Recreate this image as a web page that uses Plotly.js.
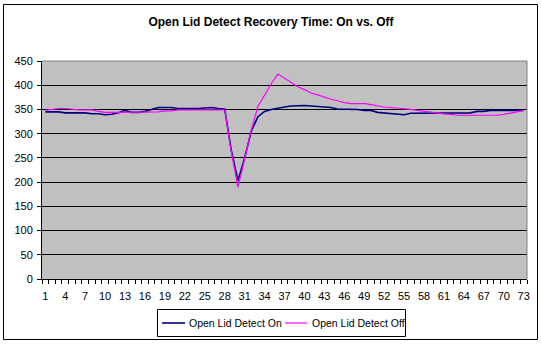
<!DOCTYPE html>
<html>
<head>
<meta charset="utf-8">
<script src="https://cdn.plot.ly/plotly-3.0.1.min.js"></script>
<style>html,body{margin:0;padding:0;background:#fff;}#chart{width:542px;height:345px;}</style>
</head>
<body>
<div id="chart"></div>
<script>
var categories = [1,2,3,4,5,6,7,8,9,10,11,12,13,14,15,16,17,18,19,20,21,22,23,24,25,26,27,28,29,30,31,32,33,34,35,36,37,38,39,40,41,42,43,44,45,46,47,48,49,50,51,52,53,54,55,56,57,58,59,60,61,62,63,64,65,66,67,68,69,70,71,72,73];
var detectOn = [345,345,345,343,343,343,343,341,341,339,340,343,348,344,344,346,350,354,354,354,352,352,351,352,353,354,352,351,265,203,250,305,335,346,350,353,355,357,358,358,357,356,355,354,351,351,350,350,348,348,344,343,341,341,339,342,342,342,342,343,343,343,343,343,343,346,346,348,348,348,348,348,348];
var detectOff = [348,350,352,352,350,349,349,349,346,344,344,344,345,345,345,345,345,345,347,347,349,349,349,349,349,349,349,349,262,189,248,308,356,380,403,423,414,406,397,391,384,380,375,371,368,364,362,362,362,360,357,355,354,353,351,350,348,346,345,342,341,340,338,338,338,338,338,338,338,340,342,345,348];
var tickVals = [1,4,7,10,13,16,19,22,25,28,31,34,37,40,43,46,49,52,55,58,61,64,67,70,73];
var tickText = ['1','4','7','10','13','16','19','22','25','28','31','34','37','40','43','46','49','52','55','58','61','64','67','70','73'];
var seriesNames = ['Open Lid Detect On','Open Lid Detect Off'];
var seriesColors = ['#000080','#FF00FF'];

var W = 542, H = 345, L = 42, R = 15, T = 61, B = 66;
var pw = W - L - R, ph = H - T - B;
function px(x){ return (x - L) / pw; }
function py(y){ return (H - B - y) / ph; }

var traces = [
  {x: categories, y: detectOn, type: 'scatter', mode: 'lines', name: seriesNames[0],
   line: {color: seriesColors[0], width: 1.6}},
  {x: categories, y: detectOff, type: 'scatter', mode: 'lines', name: seriesNames[1],
   line: {color: seriesColors[1], width: 1.2}}
];

var font = 'Liberation Sans, Arial, sans-serif';

// manual legend (box, sample lines, labels)
var legY = py(323);
var shapes = [
  {type: 'line', xref: 'paper', yref: 'paper', x0: 0, x1: 1, y0: 1, y1: 1, line: {color: '#808080', width: 1}},
  {type: 'line', xref: 'paper', yref: 'paper', x0: 1, x1: 1, y0: 0, y1: 1, line: {color: '#808080', width: 1}},
  {type: 'rect', xref: 'paper', yref: 'paper', x0: px(3.5), x1: px(537.5), y0: py(339.5), y1: py(4.5),
   line: {color: '#000', width: 1}, fillcolor: 'rgba(0,0,0,0)'},
  {type: 'rect', xref: 'paper', yref: 'paper', x0: px(157.5), x1: px(405.5), y0: py(336.5), y1: py(309.5),
   line: {color: '#000', width: 1}, fillcolor: '#FFFFFF'},
  {type: 'line', xref: 'paper', yref: 'paper', x0: px(162), x1: px(185), y0: legY, y1: legY,
   line: {color: seriesColors[0], width: 1.6}},
  {type: 'line', xref: 'paper', yref: 'paper', x0: px(285), x1: px(307), y0: legY, y1: legY,
   line: {color: seriesColors[1], width: 1.2}}
];
var annotations = [
  {xref: 'paper', yref: 'paper', x: px(187), y: legY, xanchor: 'left', yanchor: 'middle', showarrow: false,
   text: seriesNames[0], font: {family: font, size: 10.5, color: '#000'}},
  {xref: 'paper', yref: 'paper', x: px(309.5), y: legY, xanchor: 'left', yanchor: 'middle', showarrow: false,
   text: seriesNames[1], font: {family: font, size: 10.5, color: '#000'}}
];

var layout = {
  width: W, height: H,
  margin: {l: L, r: R, t: T, b: B, pad: 0, autoexpand: false},
  paper_bgcolor: '#FFFFFF',
  plot_bgcolor: '#C0C0C0',
  font: {family: font, size: 11, color: '#000'},
  title: {text: '<b>Open Lid Detect Recovery Time: On vs. Off</b>', font: {family: font, size: 12, color: '#000'},
          x: 0.5, xanchor: 'center', y: 1 - 22 / H, yanchor: 'middle'},
  showlegend: false,
  xaxis: {range: [0.5, 73.5], tickmode: 'array', tickvals: tickVals, ticktext: tickText,
          ticks: 'outside', ticklen: 7, tickcolor: 'rgba(0,0,0,0)', showgrid: false, zeroline: false,
          showline: true, linecolor: '#000', linewidth: 1,
          tickfont: {family: font, size: 11, color: '#000'}, fixedrange: true,
          minor: {tickmode: 'linear', tick0: 0.5, dtick: 1, ticks: 'outside', ticklen: 4, tickcolor: '#000', tickwidth: 1, showgrid: false}},
  yaxis: {range: [0, 450], tickmode: 'linear', tick0: 0, dtick: 50, ticks: 'outside', ticklen: 4,
          tickcolor: '#000', showgrid: true, gridcolor: '#000', gridwidth: 1, zeroline: false,
          showline: true, linecolor: '#000', linewidth: 1, ticklabelstandoff: 2,
          tickfont: {family: font, size: 11, color: '#000'}, fixedrange: true},
  shapes: shapes,
  annotations: annotations
};

Plotly.newPlot('chart', traces, layout, {displayModeBar: false, staticPlot: true});
</script>
</body>
</html>
